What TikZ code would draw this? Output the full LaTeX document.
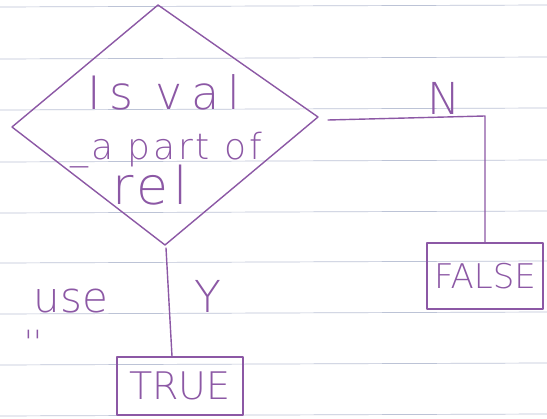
\documentclass[tikz,border=0pt]{standalone}
\usepackage{fontspec}
\newfontfamily\hand{DejaVu Sans ExtraLight}
\newfontfamily\handwide[LetterSpace=18]{DejaVu Sans ExtraLight}
\newfontfamily\handloose[LetterSpace=8]{DejaVu Sans ExtraLight}
\newcommand\handsize[1]{\fontsize{#1}{#1}\selectfont}
\definecolor{ink}{RGB}{140,88,165}
\definecolor{ruling}{RGB}{188,195,214}
\begin{document}
\begin{tikzpicture}[x=1pt,y=-1pt,
  pen/.style={draw=ink,line width=1.4pt,line cap=round,line join=round},
  lbl/.style={text=ink,inner sep=0pt,anchor=base},
  answer/.style={pen,rectangle,inner sep=0pt,text=ink}]
  \useasboundingbox (0,0) rectangle (547,419);
  \fill[white] (0,0) rectangle (547,419);
  % ruled paper
  \foreach \yl/\yr in {7/5,59/57,110/108,162/160,213/211,263/261,314/312,365/363,416/414}
    \draw[ruling,line width=0.7pt] (0,\yl) -- (547,\yr);

  % decision diamond
  \coordinate (dt) at (158,5);
  \coordinate (dr) at (318,117);
  \coordinate (db) at (165,245);
  \coordinate (dl) at (12,127);
  \draw[pen] (dt) -- (dr) -- (db) -- (dl) -- cycle;
  \node[lbl,font=\handwide\handsize{46}] (q1) at (164,110) {Is val};
  \node[lbl,font=\handloose\handsize{36}] (q2) at (166,160) {\_a part of};
  \node[lbl,font=\handloose\handsize{52}] (q3) at (150,205) {rel};

  % outcomes
  \node[answer,minimum width=116pt,minimum height=66pt,font=\hand\handsize{34}] (false) at (485,276) {FALSE};
  \node[answer,minimum width=126pt,minimum height=58pt,font=\hand\handsize{38}] (true) at (180,386) {TRUE};

  % branches
  \coordinate (nstart) at (328,120);
  \coordinate (ncorner) at (485,116);
  \draw[pen] (nstart) -- (ncorner) -- (false.north);
  \coordinate (ystart) at (166,248);
  \draw[pen] (ystart) -- ([xshift=-8pt]true.north);
  \node[lbl,font=\hand\handsize{44}] (nlab) at (444,115) {N};
  \node[lbl,font=\hand\handsize{44}] (ylab) at (208,313) {Y};

  % margin note
  \node[lbl,font=\hand\handsize{42}] (note) at (71,313) {use};
  \node[lbl,font=\hand\handsize{32}] (ditto) at (33,354) {''};
\end{tikzpicture}
\end{document}
